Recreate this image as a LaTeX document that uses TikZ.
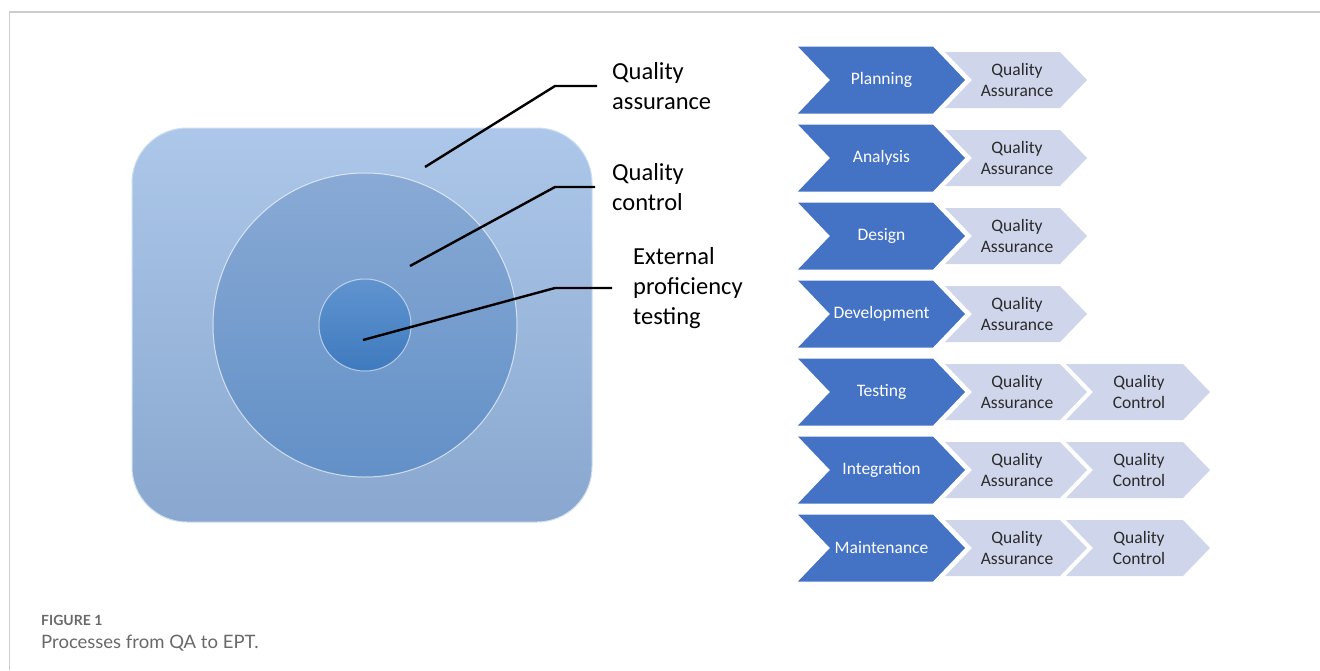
\documentclass[tikz,border=0pt]{standalone}
\usepackage{fontspec}
\setmainfont{Carlito}
\newfontfamily\capfont{Lato}
\usetikzlibrary{calc}

\definecolor{chevblue}{HTML}{4472C4}
\definecolor{chevlight}{HTML}{CFD5EA}
\definecolor{chevtext}{HTML}{2B2B2B}
\definecolor{boxtop}{RGB}{172,199,233}
\definecolor{boxbot}{RGB}{137,167,207}
\definecolor{boxrim}{RGB}{205,222,243}
\definecolor{disctop}{RGB}{137,170,213}
\definecolor{discbot}{RGB}{98,144,199}
\definecolor{coretop}{RGB}{96,148,208}
\definecolor{corebot}{RGB}{62,122,190}
\definecolor{framegray}{RGB}{205,205,205}
\definecolor{capgray}{RGB}{105,105,105}

% chevron outline: style, left x, centre y, width, half height, point depth
\newcommand{\chevshape}[6]{%
  \path[#1] (#2,#3-#5) -- (#2+#4-#6,#3-#5) -- (#2+#4,#3)
    -- (#2+#4-#6,#3+#5) -- (#2,#3+#5) -- (#2+#6,#3) -- cycle;}

\tikzset{
  phasefill/.style={fill=chevblue},
  qafill/.style={fill=chevlight},
  phasetxt/.style={text=white, font=\fontsize{17.5}{20.5}\selectfont, inner sep=0pt},
  qatxt/.style={text=chevtext, font=\fontsize{17.5}{20.5}\selectfont, align=center, inner sep=0pt},
  ringlbl/.style={anchor=west, align=left, inner sep=0pt, font=\fontsize{24.5}{30}\selectfont},
  leader/.style={line width=2.4pt, black},
}

\begin{document}
\begin{tikzpicture}[x=1pt,y=-1pt]
\useasboundingbox (0,0) rectangle (1320,670);

% page frame
\draw[framegray, line width=1.3pt] (9.5,670) -- (9.5,12) -- (1320,12);

% nested regions: QA box, QC disc, EPT core
\node[rounded corners=55pt, minimum width=460pt, minimum height=394pt, inner sep=0pt,
      top color=boxtop, bottom color=boxbot, draw=boxrim, line width=1pt] (qabox) at (362,325) {};
\node[circle, minimum size=304pt, inner sep=0pt, top color=disctop, bottom color=discbot,
      draw=white, draw opacity=0.65, line width=1pt] (qcdisc) at (365,325) {};
\node[circle, minimum size=92pt, inner sep=0pt, top color=coretop, bottom color=corebot,
      draw=white, draw opacity=0.55, line width=1pt] (eptcore) at (365,325) {};

% labels with leader lines
\node[ringlbl] (qaLbl) at (612,86) {Quality\\assurance};
\node[ringlbl] (qcLbl) at (612,187) {Quality\\control};
\node[ringlbl] (eptLbl) at (633,288) {External\\proficiency\\testing};

\coordinate (qaFrom) at (425,167);
\coordinate (qcFrom) at (410,266);
\coordinate (eptFrom) at (363,340);
\coordinate (qaBend) at (555,86);
\coordinate (qcBend) at (555,187);
\coordinate (eptBend) at (555,288);

\draw[leader] (qaFrom) -- (qaBend) -- ([xshift=-15pt]qaLbl.west);
\draw[leader] (qcFrom) -- (qcBend) -- ([xshift=-17pt]qcLbl.west);
\draw[leader] (eptFrom) -- (eptBend) -- ([xshift=-21pt]eptLbl.west);

% life-cycle phases with their quality activities
\foreach \lab [count=\i] in {Planning,Analysis,Design,Development,Testing,Integration,Maintenance}{
  \pgfmathsetmacro{\yc}{2+78*\i}
  \ifnum\i>4
    \chevshape{qafill}{1066}{\yc}{144}{28}{27}
    \node[qatxt] (qc\i) at (1139,\yc) {Quality\\Control};
  \fi
  \chevshape{qafill}{945}{\yc}{142}{28}{27}
  \node[qatxt] (qa\i) at (1017,\yc) {Quality\\Assurance};
  \chevshape{phasefill}{798}{\yc}{167}{33.5}{32}
  \node[phasetxt] (ph\i) at (881.5,\yc) {\lab};
}

% caption
\node[anchor=base west, inner sep=0pt, text=capgray, font=\capfont\bfseries\fontsize{14}{16}\selectfont] (capnum) at (41,625) {FIGURE 1};
\node[anchor=base west, inner sep=0pt, text=capgray, font=\capfont\fontsize{18.5}{22}\selectfont] (captxt) at (41,648) {Processes from QA to EPT.};
\end{tikzpicture}
\end{document}
